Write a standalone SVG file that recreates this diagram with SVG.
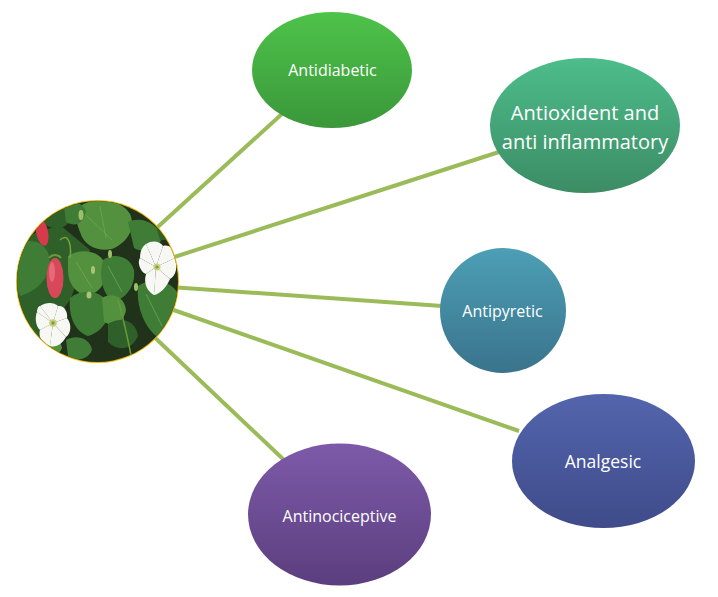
<svg xmlns="http://www.w3.org/2000/svg" width="718" height="597" viewBox="0 0 718 597">
<defs>
<style>
.lbl{font-family:"Open Sans","Liberation Sans",sans-serif;fill:#ffffff;text-anchor:middle}
.conn{stroke:#9bbb59;stroke-width:4;fill:none;stroke-linecap:butt}
.leafA{fill:#3f7c35}
.leafB{fill:#53913f}
.leafC{fill:#2f6029}
.vein{stroke:#6fa65a;stroke-width:0.8;fill:none}
.petal{fill:#f7f8f3}
</style>
<linearGradient id="gGreen" x1="0" y1="0" x2="0" y2="1"><stop offset="0" stop-color="#4ec34a"/><stop offset="1" stop-color="#3a973a"/></linearGradient>
<linearGradient id="gTeal" x1="0" y1="0" x2="0" y2="1"><stop offset="0" stop-color="#4dbd8b"/><stop offset="1" stop-color="#3c8c64"/></linearGradient>
<linearGradient id="gBlue" x1="0" y1="0" x2="0" y2="1"><stop offset="0" stop-color="#4c9fb5"/><stop offset="1" stop-color="#3a738c"/></linearGradient>
<linearGradient id="gIndigo" x1="0" y1="0" x2="0" y2="1"><stop offset="0" stop-color="#5365ad"/><stop offset="1" stop-color="#3f4b8a"/></linearGradient>
<linearGradient id="gPurple" x1="0" y1="0" x2="0" y2="1"><stop offset="0" stop-color="#7d5aa9"/><stop offset="1" stop-color="#5b3e7e"/></linearGradient>
<clipPath id="photoClip"><circle cx="97.5" cy="281.5" r="80.5"/></clipPath>
</defs>
<rect width="718" height="597" fill="#ffffff"/>

<g id="connectors">
<line class="conn" x1="150" y1="234" x2="283" y2="113"/>
<line class="conn" x1="165" y1="260" x2="499" y2="152"/>
<line class="conn" x1="170" y1="287" x2="442" y2="306"/>
<line class="conn" x1="165" y1="307" x2="519" y2="431"/>
<line class="conn" x1="150" y1="333" x2="284" y2="460"/>
</g>

<g id="center-photo">
<circle cx="97.5" cy="281.5" r="81.5" fill="#f0b400"/>
<g clip-path="url(#photoClip)">
<rect x="15" y="199" width="166" height="166" fill="#203219"/>
<path class="leafC" d="M15 240 L60 225 L90 250 L70 300 L40 340 L15 330 Z"/>
<path class="leafA" d="M16 246 C28 236 46 242 49 256 C52 272 42 290 20 296 C14 282 12 260 16 246 Z"/>
<path class="leafC" d="M40 200 C55 196 70 204 72 218 C66 230 52 232 42 222 Z"/>
<path class="leafB" d="M80 206 C96 196 120 198 130 214 C136 228 128 242 112 249 C98 252 84 246 80 232 C76 222 74 214 80 206 Z"/>
<path class="vein" d="M85 214 L112 240 M100 206 L106 238"/>
<path class="leafA" d="M64 206 C72 200 84 202 86 212 C84 222 76 228 66 222 Z"/>
<path class="leafA" d="M128 222 C140 216 158 222 162 238 C158 250 144 254 134 248 Z"/>
<path class="leafC" d="M150 205 C165 206 178 222 178 240 L160 240 Z"/>
<path class="leafB" d="M68 256 C80 248 100 250 105 264 C109 278 102 292 88 296 C76 294 68 284 68 270 Z"/>
<path class="leafA" d="M103 260 C114 252 130 256 134 270 C136 286 126 298 114 302 C104 296 98 280 103 260 Z"/>
<path class="vein" d="M108 266 L122 292 M76 262 L92 288"/>
<path class="leafA" d="M70 298 C82 288 102 290 108 304 C112 318 102 332 88 336 C76 332 68 318 70 298 Z"/>
<path class="leafB" d="M102 298 C112 292 124 296 126 310 C124 322 114 328 104 322 Z"/>
<path class="leafA" d="M138 286 C152 276 174 280 180 298 C182 316 172 330 156 336 C144 326 136 306 138 286 Z"/>
<path class="vein" d="M146 294 L162 326"/>
<path class="leafC" d="M108 324 C120 316 136 320 138 336 C132 350 118 352 108 342 Z"/>
<path class="leafB" d="M36 338 C46 332 60 336 62 348 C58 358 46 360 38 354 Z"/>
<path class="leafA" d="M66 340 C76 334 90 338 92 350 C88 360 76 362 68 356 Z"/>
<path d="M60 240 C68 232 72 244 70 258" stroke="#7aa040" stroke-width="1.5" fill="none"/>
<path d="M118 300 C124 320 128 340 132 360" stroke="#6a9a3a" stroke-width="1.5" fill="none"/>
<ellipse cx="42" cy="232" rx="6" ry="14" fill="#d63a4c" transform="rotate(-12 42 232)"/>
<ellipse cx="55" cy="278" rx="8.5" ry="20" fill="#d9485a"/>
<ellipse cx="52" cy="272" rx="3" ry="10" fill="#e76a78"/>
<path d="M49 258 C52 254 58 254 61 258" stroke="#6a9a3a" stroke-width="2" fill="none"/>
<ellipse cx="81" cy="215" rx="2.5" ry="5" fill="#9fbf6a"/>
<ellipse cx="93" cy="270" rx="2" ry="4" fill="#a8c474"/>
<ellipse cx="110" cy="254" rx="2" ry="4" fill="#9fbf6a"/>
<ellipse cx="89" cy="295" rx="2.5" ry="3.5" fill="#a8c474"/>
<ellipse cx="136" cy="287" rx="2" ry="4" fill="#9fbf6a"/>
<g id="flower1">
<path class="petal" d="M156 267 L146 244 C152 240 160 241 163 246 Z"/>
<path class="petal" d="M156 267 L163 246 C170 244 176 250 175 258 Z"/>
<path class="petal" d="M156 267 L175 258 C178 266 176 276 170 279 Z"/>
<path class="petal" d="M156 267 L170 279 C166 288 160 294 154 295 Z"/>
<path class="petal" d="M156 267 L154 295 C148 292 143 284 146 274 Z"/>
<path class="petal" d="M156 267 L146 274 C140 272 137 262 140 258 Z"/>
<path class="petal" d="M156 267 L140 258 C140 250 143 246 146 244 Z"/>
<circle cx="157" cy="267" r="3.5" fill="#c8cf7a"/>
<circle cx="157" cy="267" r="1.6" fill="#8a9a3a"/>
</g>
<g id="flower2">
<path class="petal" d="M53 323 L40 306 C46 302 54 302 58 306 Z"/>
<path class="petal" d="M53 323 L58 306 C64 305 68 312 67 318 Z"/>
<path class="petal" d="M53 323 L67 318 C72 324 71 334 66 337 Z"/>
<path class="petal" d="M53 323 L66 337 C62 344 56 348 50 346 Z"/>
<path class="petal" d="M53 323 L50 346 C42 344 38 336 40 330 Z"/>
<path class="petal" d="M53 323 L40 330 C35 326 35 316 37 312 Z"/>
<path class="petal" d="M53 323 L37 312 C37 308 39 306 40 306 Z"/>
<circle cx="53" cy="323" r="3.8" fill="#c8cf7a"/>
<circle cx="53" cy="323" r="1.7" fill="#8a9a3a"/>
</g>
</g>
</g>

<g id="node-antidiabetic">
<ellipse cx="332" cy="70" rx="80" ry="58" fill="url(#gGreen)"/>
<text class="lbl" x="332.5" y="75.5" font-size="16">Antidiabetic</text>
</g>

<g id="node-antioxident">
<ellipse cx="585" cy="125.5" rx="95" ry="67.5" fill="url(#gTeal)"/>
<text class="lbl" x="585" y="120" font-size="20">Antioxident and</text>
<text class="lbl" x="585" y="149" font-size="20">anti inflammatory</text>
</g>

<g id="node-antipyretic">
<ellipse cx="503" cy="310.5" rx="63" ry="62.5" fill="url(#gBlue)"/>
<text class="lbl" x="502.5" y="317" font-size="16">Antipyretic</text>
</g>

<g id="node-analgesic">
<ellipse cx="603.5" cy="461" rx="91.5" ry="67" fill="url(#gIndigo)"/>
<text class="lbl" x="603" y="468" font-size="17.5">Analgesic</text>
</g>

<g id="node-antinociceptive">
<ellipse cx="339.5" cy="514.5" rx="91.5" ry="71" fill="url(#gPurple)"/>
<text class="lbl" x="339.5" y="522" font-size="16">Antinociceptive</text>
</g>
</svg>
